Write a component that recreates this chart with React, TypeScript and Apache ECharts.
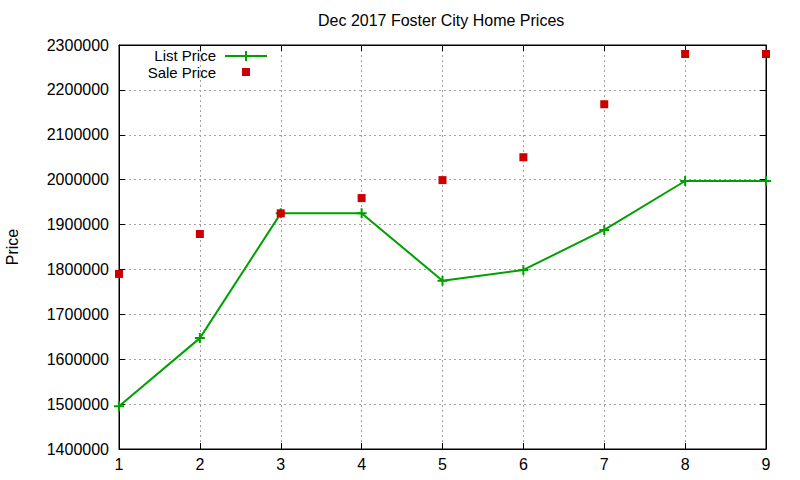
import React, { useEffect, useRef } from "react";
import * as echarts from "echarts";

const xValues = [1, 2, 3, 4, 5, 6, 7, 8, 9];
const listPrice = [1495000, 1647000, 1925000, 1925000, 1775000, 1799000, 1888000, 1997000, 1997000];
const salePrice = [1790000, 1879000, 1925000, 1959000, 1999000, 2050000, 2168000, 2280000, 2280000];
const seriesNames = ["List Price", "Sale Price"];

const FONT = "Liberation Sans, Arial, sans-serif";
const PLUS = "path://M4,0H6V4H10V6H6V10H4V6H0V4H4Z";
const GREEN = "#00a000";
const RED = "#cc0000";

export default function App() {
  const ref = useRef<HTMLDivElement>(null);
  useEffect(() => {
    const chart = echarts.init(ref.current!, null, { renderer: "svg" });
    const axisText = { color: "#000", fontFamily: FONT, fontSize: 16 };
    const legendText = {
      fontFamily: FONT,
      fontSize: 15,
      lineHeight: 15,
      fill: "#000",
      align: "right",
      verticalAlign: "middle",
    };
    chart.setOption({
      animation: false,
      backgroundColor: "#fff",
      title: {
        text: "Dec 2017 Foster City Home Prices",
        left: 318,
        top: 12,
        padding: 0,
        textStyle: { fontFamily: FONT, fontSize: 16, fontWeight: "normal", color: "#000" },
      },
      graphic: [
        { type: "text", x: 216, y: 55, style: { ...legendText, text: seriesNames[0] } },
        { type: "line", shape: { x1: 225, y1: 56, x2: 267, y2: 56 }, style: { stroke: GREEN, lineWidth: 2 } },
        { type: "line", shape: { x1: 246, y1: 51, x2: 246, y2: 61 }, style: { stroke: GREEN, lineWidth: 2 } },
        { type: "text", x: 216, y: 72, style: { ...legendText, text: seriesNames[1] } },
        { type: "rect", shape: { x: 242, y: 68, width: 8, height: 8 }, style: { fill: RED } },
      ],
      grid: {
        left: 119,
        right: 34,
        top: 45,
        bottom: 31,
        show: true,
        borderColor: "#000",
        borderWidth: 1,
        containLabel: false,
        outerBoundsMode: "none",
      },
      xAxis: [
        {
          type: "value",
          min: 1,
          max: 9,
          interval: 1,
          axisLine: { show: true, lineStyle: { color: "#000" } },
          axisTick: { show: true, inside: true, length: 6, lineStyle: { color: "#000" } },
          axisLabel: { ...axisText, margin: 7 },
          splitLine: { show: true, lineStyle: { color: "#a0a0a0", type: [2, 3] } },
        },
        {
          type: "value",
          position: "top",
          min: 1,
          max: 9,
          interval: 1,
          axisLine: { show: true, lineStyle: { color: "#000" } },
          axisTick: { show: true, inside: true, length: 6, lineStyle: { color: "#000" } },
          axisLabel: { show: false },
          splitLine: { show: false },
        },
      ],
      yAxis: [
        {
          type: "value",
          min: 1400000,
          max: 2300000,
          interval: 100000,
          name: "Price",
          nameLocation: "middle",
          nameGap: 99,
          nameRotate: 90,
          nameTextStyle: axisText,
          axisLine: { show: true, lineStyle: { color: "#000" } },
          axisTick: { show: true, inside: true, length: 6, lineStyle: { color: "#000" } },
          axisLabel: { ...axisText, margin: 10, formatter: (v: number) => String(v) },
          splitLine: { show: true, lineStyle: { color: "#a0a0a0", type: [2, 3] } },
        },
        {
          type: "value",
          position: "right",
          min: 1400000,
          max: 2300000,
          interval: 100000,
          axisLine: { show: true, lineStyle: { color: "#000" } },
          axisTick: { show: true, inside: true, length: 6, lineStyle: { color: "#000" } },
          axisLabel: { show: false },
          splitLine: { show: false },
        },
      ],
      series: [
        {
          name: seriesNames[0],
          type: "line",
          data: xValues.map((x, i) => [x, listPrice[i]]),
          symbol: PLUS,
          symbolSize: 10,
          showAllSymbol: true,
          lineStyle: { color: GREEN, width: 2 },
          itemStyle: { color: GREEN },
          z: 3,
        },
        {
          name: seriesNames[1],
          type: "scatter",
          data: xValues.map((x, i) => [x, salePrice[i]]),
          symbol: "rect",
          symbolSize: 8,
          itemStyle: { color: RED, opacity: 1 },
          z: 4,
        },
      ],
    });
    return () => chart.dispose();
  }, []);
  return <div ref={ref} style={{ width: 800, height: 480, position: "absolute", left: 0, top: 0 }} />;
}
